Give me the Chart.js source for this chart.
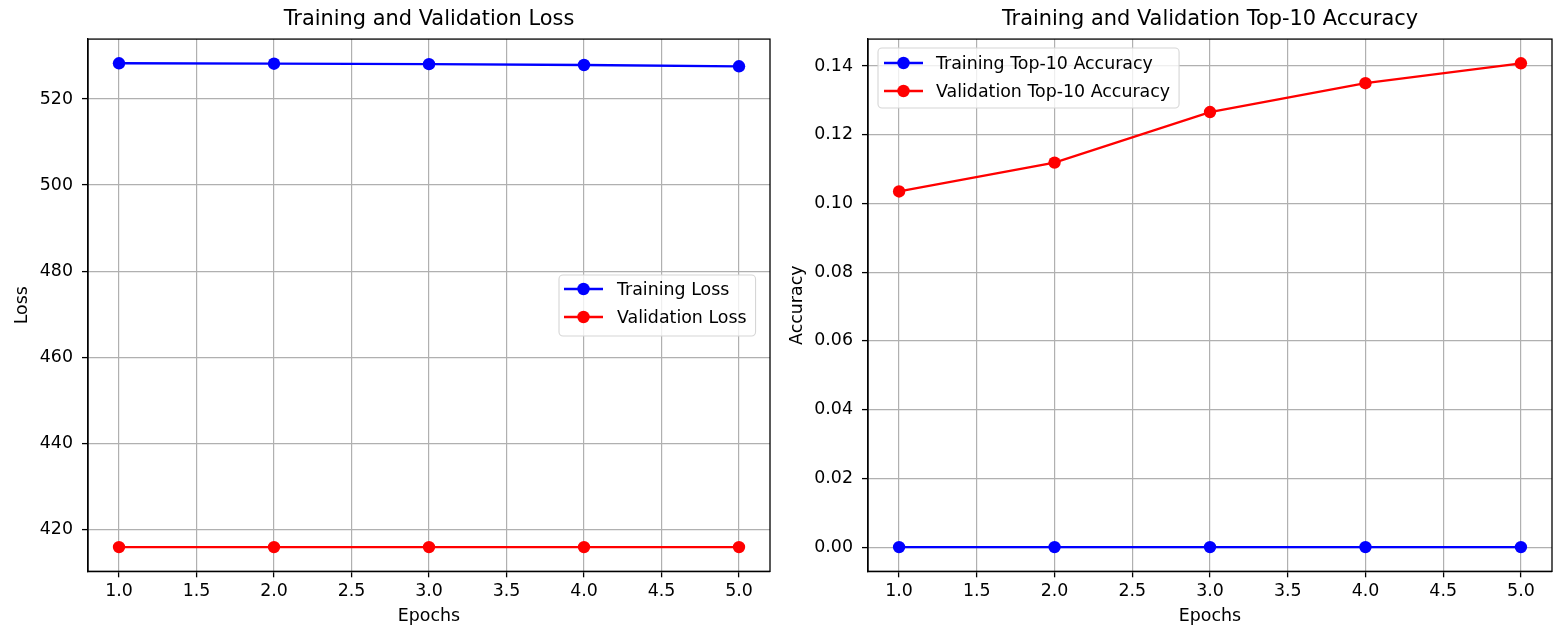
<!DOCTYPE html>
<html><head><meta charset="utf-8">
<script src="https://cdn.jsdelivr.net/npm/chart.js@4.4.0/dist/chart.umd.min.js"></script>
<style>
html,body{margin:0;padding:0;background:#fff;}
#w{position:relative;width:1560px;height:632px;overflow:hidden;}
.c{position:absolute;top:0;width:780px;height:632px;}
</style></head><body>
<div id="w">
<div class="c" style="left:0"><canvas id="c1" width="780" height="632"></canvas></div>
<div class="c" style="left:780px"><canvas id="c2" width="780" height="632"></canvas></div>
</div>
<script>
// ---- data ----
const epochs = [1, 2, 3, 4, 5];
const trainLoss = [528.3, 528.2, 528.1, 527.9, 527.6];
const valLoss = [415.9, 415.9, 415.9, 415.9, 415.9];
const trainAcc = [0, 0, 0, 0, 0];
const valAcc = [0.1035, 0.1119, 0.1266, 0.1350, 0.1408];
const xTicks = [1.0, 1.5, 2.0, 2.5, 3.0, 3.5, 4.0, 4.5, 5.0];
const lossTicks = [420, 440, 460, 480, 500, 520];
const accTicks = [0.00, 0.02, 0.04, 0.06, 0.08, 0.10, 0.12, 0.14];

const FONT = "'DejaVu Sans'";
const FS = 17.4;
const PR = 6.2;
const LW = 2.3;

function limits(arrs, margin) {
  const all = [].concat(...arrs);
  const lo = Math.min(...all), hi = Math.max(...all);
  const m = (hi - lo) * margin;
  return [lo - m, hi + m];
}

const framePlugin = {
  id: 'frame',
  afterDraw(chart, args, opts) {
    const {ctx, chartArea: a} = chart;
    ctx.save();
    ctx.strokeStyle = '#000';
    ctx.lineWidth = 1.3;
    ctx.strokeRect(a.left, a.top, a.right - a.left, a.bottom - a.top);
    // legend
    const L = opts.legend;
    if (L) {
      ctx.font = FS + 'px ' + FONT;
      const ds = chart.data.datasets;
      let maxW = 0;
      ds.forEach(d => { maxW = Math.max(maxW, ctx.measureText(d.label).width); });
      const w = L.tx - L.x + maxW + 9;
      const h = L.h;
      const r = 4;
      ctx.beginPath();
      ctx.moveTo(L.x + r, L.y);
      ctx.arcTo(L.x + w, L.y, L.x + w, L.y + h, r);
      ctx.arcTo(L.x + w, L.y + h, L.x, L.y + h, r);
      ctx.arcTo(L.x, L.y + h, L.x, L.y, r);
      ctx.arcTo(L.x, L.y, L.x + w, L.y, r);
      ctx.closePath();
      ctx.fillStyle = 'rgba(255,255,255,0.8)';
      ctx.fill();
      ctx.strokeStyle = '#d6d6d6';
      ctx.lineWidth = 1.1;
      ctx.stroke();
      ds.forEach((d, i) => {
        const y = L.y0 + i * L.rowH;
        ctx.strokeStyle = d.borderColor;
        ctx.lineWidth = LW;
        ctx.beginPath();
        ctx.moveTo(L.hx, y);
        ctx.lineTo(L.hx + 39, y);
        ctx.stroke();
        ctx.fillStyle = d.borderColor;
        ctx.beginPath();
        ctx.arc(L.hx + 19.5, y, PR, 0, Math.PI * 2);
        ctx.fill();
        ctx.fillStyle = '#000';
        ctx.textBaseline = 'middle';
        ctx.textAlign = 'left';
        ctx.fillText(d.label, L.tx, y + 1);
      });
    }
    ctx.restore();
  }
};

function makeChart(id, cfg) {
  const [yMin, yMax] = limits(cfg.series, 0.05);
  return new Chart(document.getElementById(id), {
    type: 'line',
    data: {
      datasets: cfg.labels.map((lab, i) => ({
        label: lab,
        data: epochs.map((e, j) => ({x: e, y: cfg.series[i][j]})),
        borderColor: cfg.colors[i],
        backgroundColor: cfg.colors[i],
        pointBackgroundColor: cfg.colors[i],
        pointBorderWidth: 0,
        pointRadius: PR,
        borderWidth: LW,
        tension: 0,
        fill: false
      }))
    },
    options: {
      responsive: false,
      animation: false,
      events: [],
      layout: {padding: {left: 0, right: cfg.padRight, top: 0, bottom: 0}},
      plugins: {
        legend: {display: false},
        tooltip: {enabled: false},
        title: {
          display: true, text: cfg.title, fullSize: false,
          font: {family: FONT, size: 20.9, weight: 'normal'}, color: '#000',
          padding: {top: 7, bottom: 7}
        },
        frame: {legend: cfg.legend}
      },
      scales: {
        x: {
          type: 'linear', min: 0.8, max: 5.2,
          afterBuildTicks: s => { s.ticks = xTicks.map(v => ({value: v})); },
          afterFit: s => { s.height = 60.7; },
          grid: {color: '#b0b0b0', lineWidth: 1.2, tickColor: '#000', tickLength: 6, tickWidth: 1.3},
          border: {color: '#000', width: 1.3},
          ticks: {callback: v => v.toFixed(1), font: {family: FONT, size: FS}, color: '#000', padding: 4, maxRotation: 0, autoSkip: false},
          title: {display: true, text: 'Epochs', font: {family: FONT, size: FS}, color: '#000', padding: {top: 0, bottom: 5}}
        },
        y: {
          type: 'linear', min: yMin, max: yMax,
          afterBuildTicks: s => { s.ticks = cfg.yTicks.map(v => ({value: v})); },
          afterFit: s => { s.width = 88; },
          grid: {color: '#b0b0b0', lineWidth: 1.2, tickColor: '#000', tickLength: 6, tickWidth: 1.3},
          border: {color: '#000', width: 1.3},
          ticks: {callback: v => v.toFixed(cfg.yDec), font: {family: FONT, size: FS}, color: '#000', padding: 9, autoSkip: false},
          title: {display: true, text: cfg.yTitle, font: {family: FONT, size: FS}, color: '#000', padding: {top: cfg.yTitlePad, bottom: 0}}
        }
      }
    },
    plugins: [framePlugin]
  });
}

makeChart('c1', {
  title: 'Training and Validation Loss',
  labels: ['Training Loss', 'Validation Loss'],
  series: [trainLoss, valLoss],
  colors: ['#0000ff', '#ff0000'],
  yTicks: lossTicks, yDec: 0, yTitle: 'Loss', yTitlePad: 11.6,
  padRight: 10,
  legend: {x: 559, y: 275, h: 61, hx: 564, tx: 617, y0: 289, rowH: 28}
});

makeChart('c2', {
  title: 'Training and Validation Top-10 Accuracy',
  labels: ['Training Top-10 Accuracy', 'Validation Top-10 Accuracy'],
  series: [trainAcc, valAcc],
  colors: ['#0000ff', '#ff0000'],
  yTicks: accTicks, yDec: 2, yTitle: 'Accuracy', yTitlePad: 6.6,
  padRight: 8,
  legend: {x: 98, y: 48, h: 60, hx: 104, tx: 156, y0: 63, rowH: 28}
});
</script>
</body></html>
